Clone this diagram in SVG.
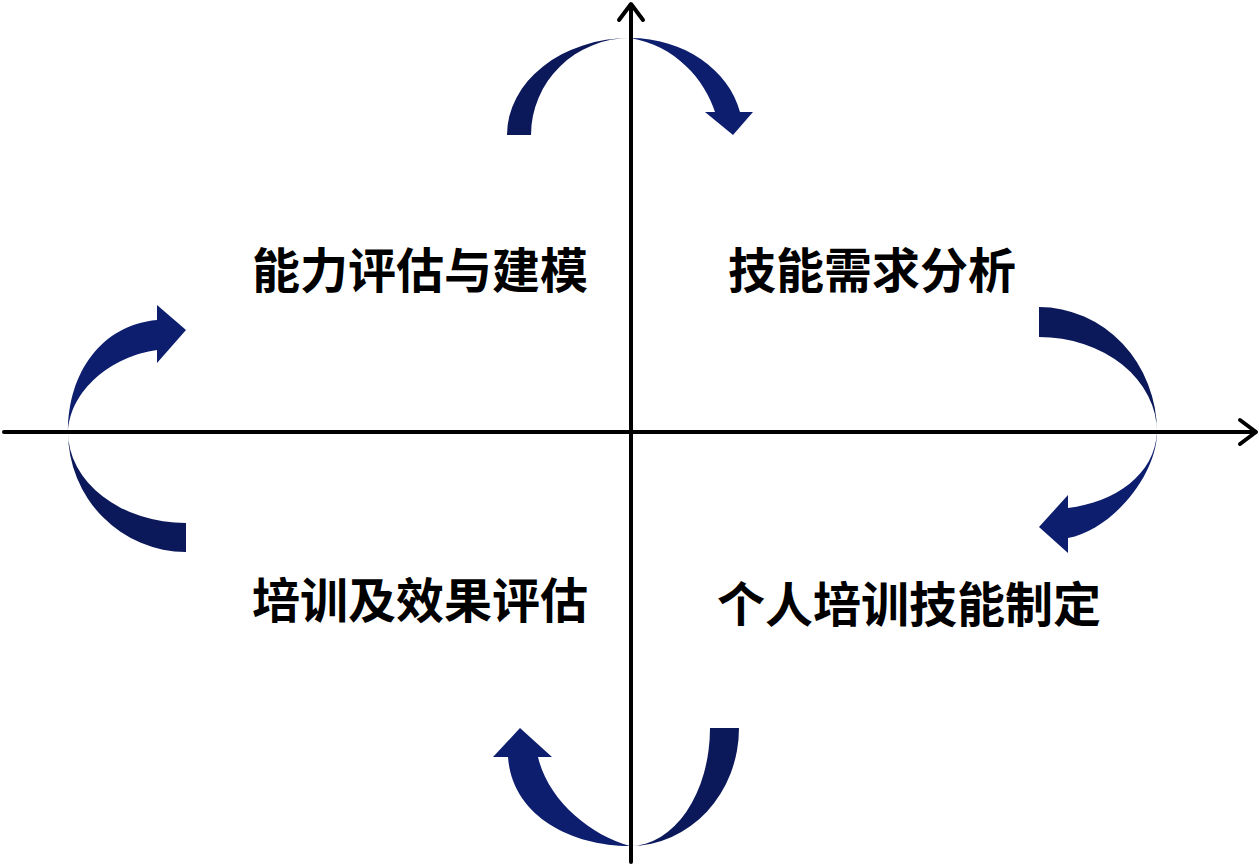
<svg xmlns="http://www.w3.org/2000/svg" width="1259" height="865" viewBox="0 0 1259 865">
<style>
.tail{fill:#0b185a}
.head{fill:#0e1e6f}
.axis{fill:none;stroke:#000;stroke-width:4;stroke-linecap:round;stroke-linejoin:round}
.lbl{font-family:"Noto Sans CJK SC","Noto Sans",sans-serif;font-weight:bold;font-size:48px;fill:#000;text-anchor:middle}
</style>
<rect width="1259" height="865" fill="#fff"/>
<g id="cycle-arrows">
<g id="arrow-top">
<path class="tail" d="M507,135 A123,97 0 0 1 630,38 A99,97 0 0 0 531,135 Z"/>
<path class="head" d="M630,38 C684,38 729,70 740,112 L753,112 L733,135 L705,112 L715,112 C705,80 675,45 630,38 Z"/>
</g>
<g id="arrow-right">
<path class="tail" d="M1039,307 A118,125 0 0 1 1157,432 A118,95 0 0 0 1039,337 Z"/>
<path class="head" d="M1157,432 C1157,475 1112,530 1068,538 L1068,553 L1039,527 L1068,495 L1068,508 C1115,502 1155,475 1157,432 Z"/>
</g>
<g id="arrow-bottom">
<path class="tail" d="M739,728 A109,118 0 0 1 630,846 A80,118 0 0 0 710,728 Z"/>
<path class="head" d="M630,846 C570,846 512,815 508,757 L493,757 L520,728 L552,757 L538,757 C548,800 590,835 630,846 Z"/>
</g>
<g id="arrow-left">
<path class="tail" d="M186,552 A118,120 0 0 1 68,432 A118,91 0 0 0 186,523 Z"/>
<path class="head" d="M68,432 C68,372 102,325 157,320 L157,305 L186,330 L157,363 L157,350 C112,356 70,390 68,432 Z"/>
</g>
</g>
<g id="axes">
<line class="axis" x1="4" y1="432" x2="1255" y2="432"/>
<polyline class="axis" points="1240,420 1256,432 1240,444"/>
<line class="axis" x1="631" y1="862" x2="631" y2="5"/>
<polyline class="axis" points="619,20 631,4 643,20"/>
</g>
<g id="node-q2"><text class="lbl" x="420" y="288">能力评估与建模</text></g>
<g id="node-q1"><text class="lbl" x="872" y="288">技能需求分析</text></g>
<g id="node-q3"><text class="lbl" x="420" y="618">培训及效果评估</text></g>
<g id="node-q4"><text class="lbl" x="909" y="622">个人培训技能制定</text></g>
</svg>
